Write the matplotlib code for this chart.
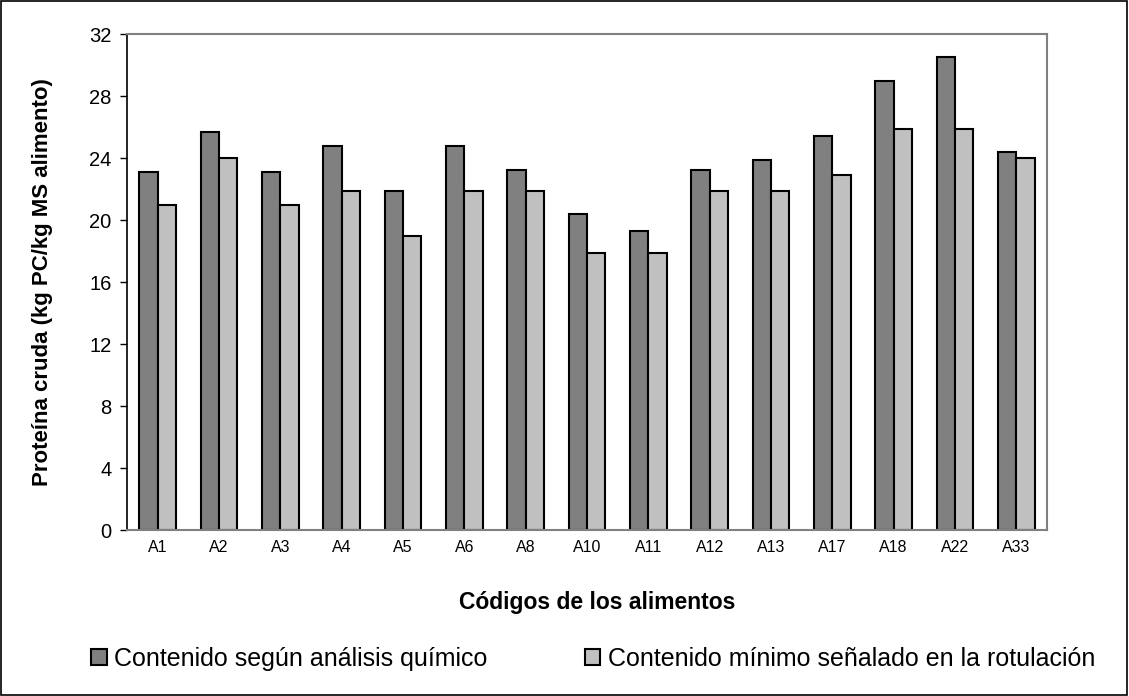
import numpy as np
import matplotlib
matplotlib.use('Agg')
import matplotlib.pyplot as plt
from matplotlib.patches import Rectangle

plt.rcParams['font.family'] = ['Liberation Sans', 'DejaVu Sans']

# ── Data ────────────────────────────────────────────────────────────────
codes = ["A1", "A2", "A3", "A4", "A5", "A6", "A8", "A10", "A11",
         "A12", "A13", "A17", "A18", "A22", "A33"]
analisis = [23.1, 25.7, 23.1, 24.8, 21.9, 24.8, 23.2, 20.4, 19.3,
            23.2, 23.9, 25.4, 29.0, 30.5, 24.4]
rotulacion = [21.0, 24.0, 21.0, 21.9, 19.0, 21.9, 21.9, 17.9, 17.9,
              21.9, 21.9, 22.9, 25.9, 25.9, 24.0]
yticks = [0, 4, 8, 12, 16, 20, 24, 28, 32]

serie_labels = ["Contenido según análisis químico",
                "Contenido mínimo señalado en la rotulación"]

# ── Figure ──────────────────────────────────────────────────────────────
W, H = 1129, 696
fig = plt.figure(figsize=(W / 100, H / 100), dpi=100)
ax = fig.add_axes([127 / W, 1 - 530 / H, (1047 - 127) / W, (530 - 34) / H])

x = np.arange(len(codes))
bw = 0.30
b1 = ax.bar(x - bw / 2, analisis, bw, color='#808080', edgecolor='black',
            linewidth=1.5, label=serie_labels[0])
b2 = ax.bar(x + bw / 2, rotulacion, bw, color='#C0C0C0', edgecolor='black',
            linewidth=1.5, label=serie_labels[1])

ax.set_xlim(-0.5, len(codes) - 0.5)
ax.set_ylim(0, 32)
ax.set_yticks(yticks)
ax.set_yticklabels([str(t) for t in yticks], fontsize=14.5)
ax.set_xticks(x)
ax.set_xticklabels(codes, fontsize=11.5)
ax.tick_params(axis='x', length=0, pad=7)
ax.tick_params(axis='y', length=5, width=1, direction='out', pad=6)

for s in ['top', 'right', 'bottom']:
    ax.spines[s].set_color('#808080')
    ax.spines[s].set_linewidth(1.5)
ax.spines['left'].set_color('black')
ax.spines['left'].set_linewidth(1.2)

ax.set_ylabel("Proteína cruda (kg PC/kg MS alimento)", fontsize=16,
              fontweight='bold')
ax.yaxis.set_label_coords((53 - 127) / (1047 - 127), 0.5)
fig.text(597 / W, 1 - 603 / H, "Códigos de los alimentos", fontsize=16.5,
         fontweight='bold', ha='center', va='center')

fig.legend(handles=[b1, b2], loc='center left',
           bbox_to_anchor=(91 / W, 1 - 659 / H), ncol=2, frameon=False,
           fontsize=18, handlelength=0.62, handleheight=0.58,
           handletextpad=0.3, columnspacing=3.9, borderaxespad=0,
           borderpad=0)

# outer frame around the whole chart
fig.patches.append(Rectangle((0.001, 0.001), 0.997, 0.997, fill=False,
                             edgecolor='black', linewidth=1.2,
                             transform=fig.transFigure, figure=fig))

plt.savefig("out.png", dpi=100)
plt.close()
